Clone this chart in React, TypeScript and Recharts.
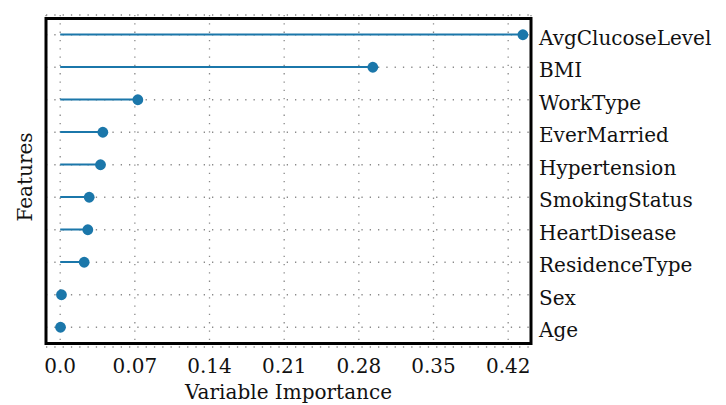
import React from 'react';
import {
  ComposedChart,
  Bar,
  Line,
  XAxis,
  YAxis,
  CartesianGrid,
  ReferenceArea,
} from 'recharts';

const features = [
  'AvgClucoseLevel',
  'BMI',
  'WorkType',
  'EverMarried',
  'Hypertension',
  'SmokingStatus',
  'HeartDisease',
  'ResidenceType',
  'Sex',
  'Age',
];
const importance = [0.4338, 0.2931, 0.0728, 0.04, 0.0378, 0.0272, 0.0259, 0.0225, 0.0012, 0.0003];
const xTicks = [0, 0.07, 0.14, 0.21, 0.28, 0.35, 0.42];
const xDomain: [number, number] = [-0.0133, 0.4414];

const data = features.map((f, i) => ({ feature: f, value: importance[i] }));

const COLOR = '#1b77aa';
const FONT = '"DejaVu Serif", serif';

const FeaturesLabel = (props: any) => {
  const vb = props.viewBox || {};
  const cx = vb.x + vb.width / 2 - 2;
  const cy = vb.y + vb.height / 2 - 4;
  return (
    <text
      x={cx}
      y={cy}
      transform={`rotate(-90, ${cx}, ${cy})`}
      textAnchor="middle"
      dominantBaseline="central"
      fontFamily={FONT}
      fontSize={20}
      fill="#111"
    >
      Features
    </text>
  );
};

export default function App() {
  return (
    <div style={{ width: 718, height: 397 }}>
      <ComposedChart
        width={718}
        height={397}
        data={data}
        layout="vertical"
        margin={{ top: 7, right: 0, bottom: 0, left: 0 }}
      >
        <CartesianGrid
          stroke="#8a8a8a"
          strokeWidth={1.3}
          strokeDasharray="1.3 7"
        />
        <XAxis
          type="number"
          dataKey="value"
          domain={xDomain}
          ticks={xTicks}
          allowDataOverflow
          height={58}
          axisLine={false}
          tickLine={false}
          tickSize={0}
          tickMargin={12}
          tickFormatter={(v: number) => (v === 0 ? '0.0' : String(v))}
          tick={{ fontFamily: FONT, fontSize: 20, fill: '#111' }}
          label={{
            value: 'Variable Importance',
            position: 'insideBottom',
            offset: 6,
            fontFamily: FONT,
            fontSize: 20,
            fill: '#111',
          }}
        />
        <YAxis
          yAxisId="left"
          type="category"
          dataKey="feature"
          orientation="left"
          width={38}
          padding={{ top: 3.5, bottom: 3.5 }}
          tick={false}
          axisLine={false}
          tickLine={false}
          label={<FeaturesLabel />}
        />
        <YAxis
          type="category"
          dataKey="feature"
          orientation="right"
          width={195}
          padding={{ top: 3.5, bottom: 3.5 }}
          axisLine={false}
          tickLine={false}
          tickSize={0}
          tickMargin={8}
          tick={{ fontFamily: FONT, fontSize: 20, fill: '#111', dy: 3, textAnchor: 'start' }}
          interval={0}
        />
        <Bar dataKey="value" fill={COLOR} barSize={2} isAnimationActive={false} />
        <Line
          dataKey="value"
          stroke="transparent"
          strokeWidth={0}
          dot={{ r: 5.4, fill: COLOR, stroke: 'none' }}
          activeDot={false}
          isAnimationActive={false}
        />
        <ReferenceArea
          x1={xDomain[0]}
          x2={xDomain[1]}
          fill="none"
          stroke="#000"
          strokeWidth={3}
          ifOverflow="visible"
        />
      </ComposedChart>
    </div>
  );
}
